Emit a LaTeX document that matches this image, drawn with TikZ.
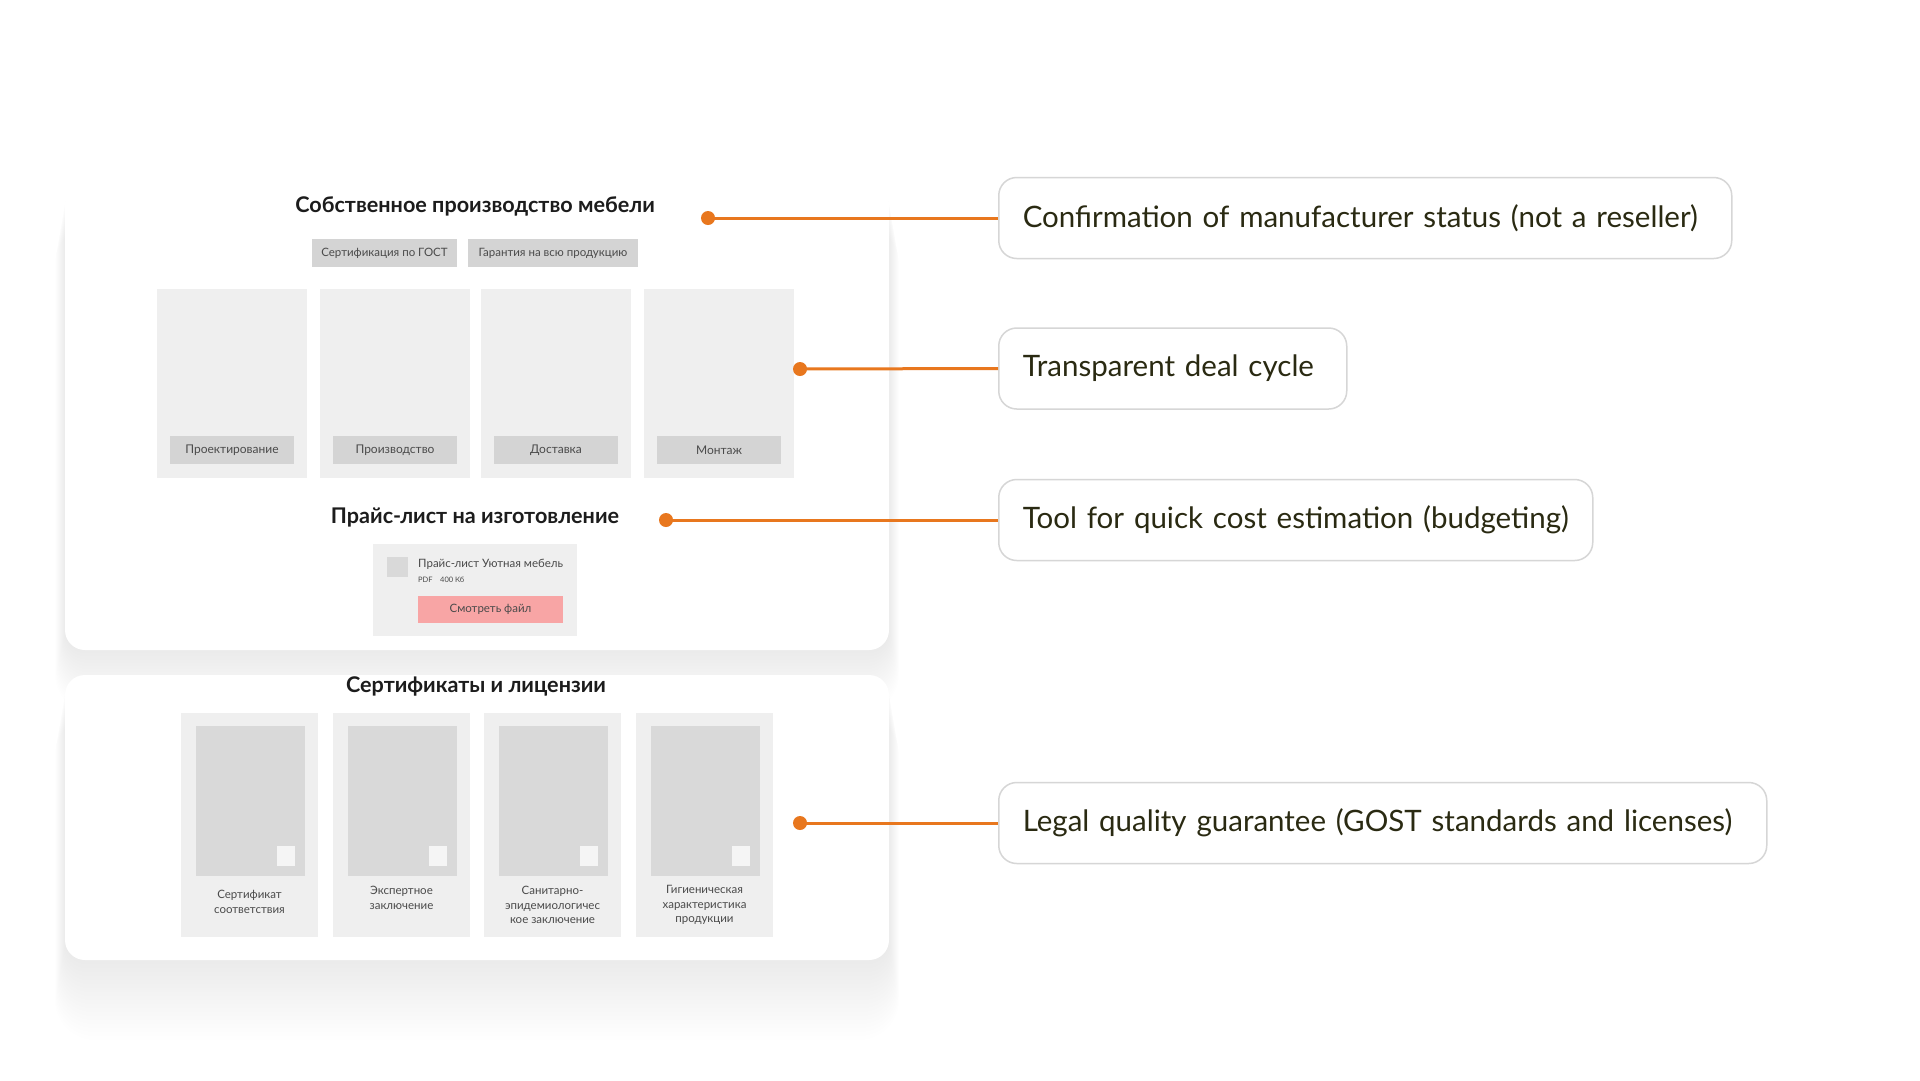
\documentclass[tikz,border=0pt]{standalone}
\usepackage{fontspec}
\setmainfont{Lato}
\definecolor{orangeC}{HTML}{E8771E}
\definecolor{txtC}{HTML}{2A2A12}
\definecolor{titleC}{HTML}{1C1C1C}
\definecolor{panelC}{HTML}{EFEFEF}
\definecolor{tagC}{HTML}{D4D4D4}
\definecolor{imgC}{HTML}{D9D9D9}
\definecolor{smallC}{HTML}{4A4A4A}
\definecolor{pinkC}{HTML}{F8A5A5}
\definecolor{borderC}{HTML}{D6D6D6}
\tikzset{
  card/.style={fill=white, draw=none, rounded corners=20pt},
  shadowlayer/.style={fill=black, fill opacity=0.0055, draw=none},
  panel/.style={fill=panelC, draw=none, inner sep=0pt},
  tagbox/.style={fill=tagC, draw=none, inner sep=0pt, minimum height=28pt, text=smallC, font=\fontsize{11.5}{13}\selectfont},
  imgbox/.style={fill=imgC, draw=none, inner sep=0pt},
  whitesq/.style={fill=white, fill opacity=0.75, draw=none, inner sep=0pt, minimum width=18pt, minimum height=20pt},
  heading/.style={text=titleC, font=\bfseries\fontsize{21.6}{25}\selectfont, inner sep=0pt},
  certlabel/.style={text=smallC, align=center, font=\fontsize{11.5}{14.5}\selectfont, inner sep=0pt},
  dotmark/.style={circle, fill=orangeC, draw=none, inner sep=0pt, minimum size=14pt},
  callout/.style={draw=borderC, line width=1.5pt, fill=white, rounded corners=18pt, minimum height=81pt, inner xsep=24pt, align=left, text=txtC, font=\fontsize{29.5}{34}\selectfont, anchor=west},
  link/.style={draw=orangeC, line width=3pt}
}
\begin{document}
\begin{tikzpicture}[x=1pt,y=-1pt]
\useasboundingbox[fill=white] (0,0) rectangle (1920,1080);
% soft shadows
\foreach \i in {1,...,20}{
  \path[shadowlayer, rounded corners=20pt+\i*1pt] (65-\i*0.5,184+\i*2) rectangle (889+\i*0.5,650+\i*3.2);
  \path[shadowlayer, rounded corners=20pt+\i*1pt] (65-\i*0.5,675+\i*2) rectangle (889+\i*0.5,960+\i*4);
}
% cards
\path[card] (65,184) rectangle (889,650);
\path[card] (65,675) rectangle (889,960);
% section 1
\node[heading] (h1) at (475,206) {Собственное производство мебели};
\node[tagbox, minimum width=145pt] (tag1) at (384.5,253) {Сертификация по ГОСТ};
\node[tagbox, minimum width=170pt] (tag2) at (553,253) {Гарантия на всю продукцию};
\foreach \cx/\lbl/\nm in {232/Проектирование/a, 395/Производство/b, 556/Доставка/c, 719/Монтаж/d}{
  \node[panel, minimum width=150pt, minimum height=189pt] (stage\nm) at (\cx,383.5) {};
  \node[tagbox, minimum width=124pt, font=\fontsize{12}{14}\selectfont] (stagelbl\nm) at (\cx,450) {\lbl};
}
% section 2
\node[heading] (h2) at (475,517) {Прайс-лист на изготовление};
\node[panel, minimum width=204pt, minimum height=92pt] (price) at (475,590) {};
\node[imgbox, minimum width=21pt, minimum height=20pt] (picon) at (397.5,567) {};
\node[anchor=west, inner sep=0pt, text=smallC, font=\fontsize{11.5}{13}\selectfont] (ptitle) at (418,564) {Прайс-лист Уютная мебель};
\node[anchor=west, inner sep=0pt, text=smallC, font=\fontsize{7.5}{8}\selectfont] (psize) at (418,579.5) {PDF\quad 400 Кб};
\node[fill=pinkC, inner sep=0pt, minimum width=145pt, minimum height=27pt, text=smallC, font=\fontsize{11.5}{13}\selectfont] (pbtn) at (490.5,609.5) {Смотреть файл};
% section 3
\node[heading] (h3) at (476,686) {Сертификаты и лицензии};
\foreach \lx/\lbl/\nm/\ly in {181/{Сертификат\\соответствия}/a/902, 333/{Экспертное\\заключение}/b/898, 484/{Санитарно-\\эпидемиологичес\\кое заключение}/c/905, 636/{Гигиеническая\\характеристика\\продукции}/d/905}{
  \node[panel, minimum width=137pt, minimum height=224pt] (cert\nm) at (\lx+68.5,825) {};
  \node[imgbox, minimum width=109pt, minimum height=150pt] (certimg\nm) at (\lx+69.5,801) {};
  \node[whitesq] (certsq\nm) at (\lx+105,856) {};
  \node[certlabel] (certlbl\nm) at (\lx+68.5,\ly) {\lbl};
}
% callouts
\node[dotmark] (dot1) at (708,218) {};
\node[dotmark] (dot2) at (800,369) {};
\node[dotmark] (dot3) at (666,520) {};
\node[dotmark] (dot4) at (800,823) {};
\node[callout, text width=685pt] (call1) at (998,218) {Confirmation of manufacturer status (not a reseller)};
\node[callout, text width=300pt] (call2) at (998,368.5) {Transparent deal cycle};
\node[callout, text width=546pt] (call3) at (998,520) {Tool for quick cost estimation (budgeting)};
\node[callout, text width=720pt] (call4) at (998,823) {Legal quality guarantee (GOST standards and licenses)};
\draw[link] (dot1.center) -- (call1.west);
\draw[link] (dot2.center) -- (call2.west);
\draw[link] (dot3.center) -- (call3.west);
\draw[link] (dot4.center) -- (call4.west);
\end{tikzpicture}
\end{document}
